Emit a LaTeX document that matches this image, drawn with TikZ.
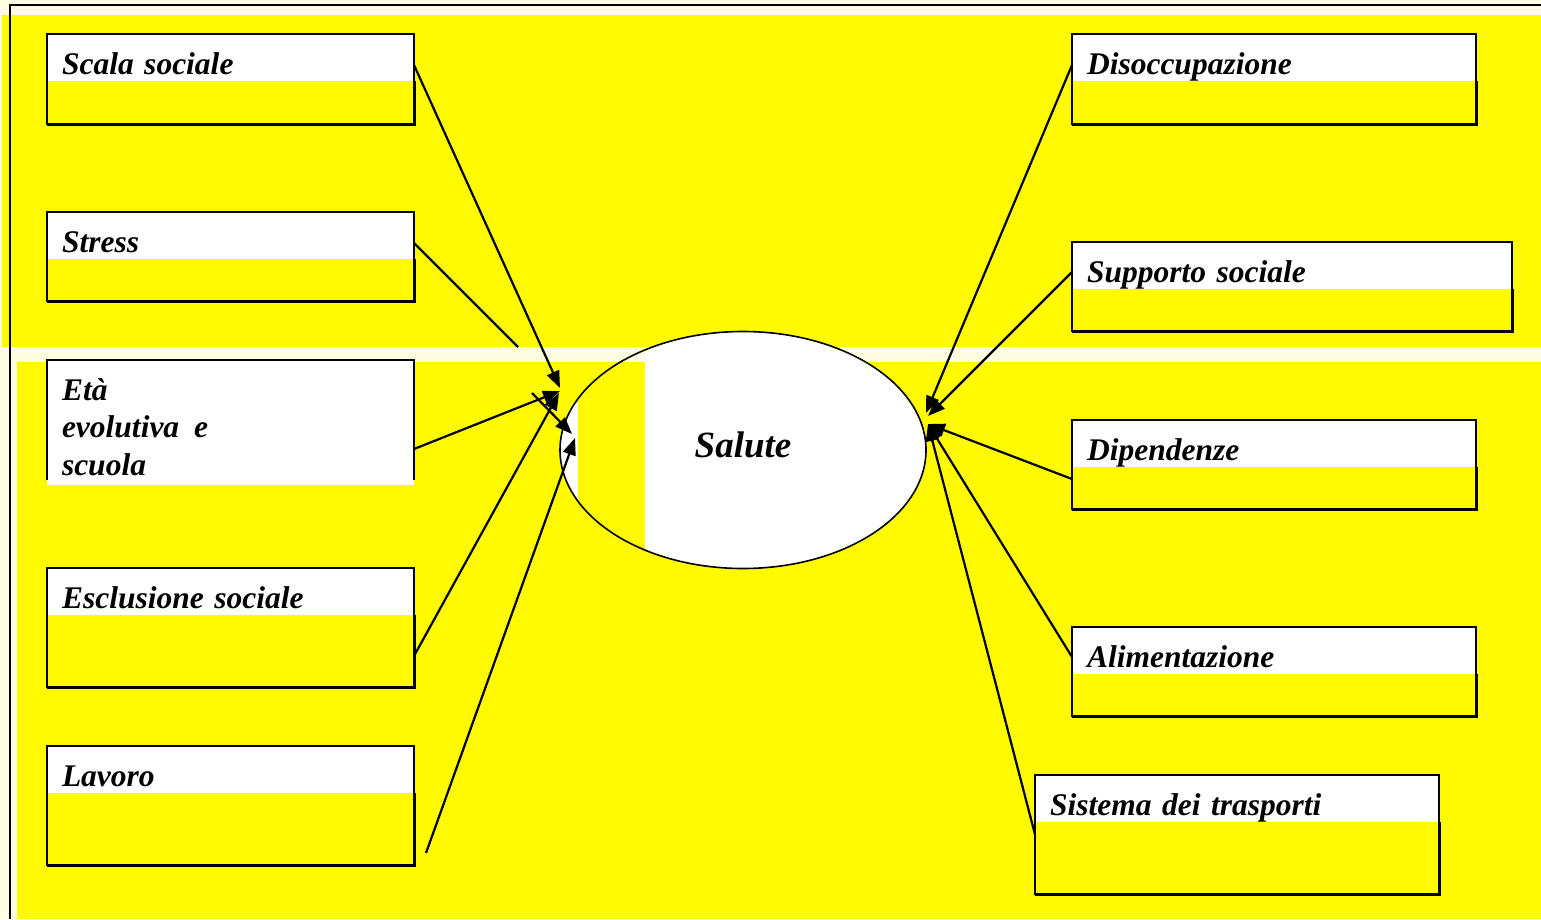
\documentclass[tikz,border=0pt]{standalone}
\usepackage{fontspec}
\setmainfont[WordSpace=0.6]{Liberation Serif}
\usepackage{tikz}
\usetikzlibrary{shapes,arrows.meta}

\definecolor{sfondo}{RGB}{255,250,0}
\definecolor{crema}{RGB}{255,253,225}

\tikzset{
  fattore/.style={anchor=north west, fill=sfondo, inner sep=0pt, outer sep=0pt},
  titolo/.style={anchor=north west, fill=white, inner xsep=15pt, inner ysep=0pt, outer sep=0pt,
    text height=40pt, text depth=7pt, align=left,
    font=\bfseries\itshape\fontsize{31.5}{37.5}\selectfont},
  bordo/.style={draw=black, line width=1.2pt},
  ombra/.style={draw=black, line width=3pt},
  nucleo/.style={ellipse, fill=white, minimum width=366, minimum height=237,
    text depth=10pt, font=\bfseries\itshape\fontsize{37}{40}\selectfont}
}

\begin{document}
\begin{tikzpicture}[x=1pt, y=-1pt, line width=2.2pt, >={Triangle[length=17pt,width=13pt]}]
    \useasboundingbox (0,0) rectangle (1541,919);
    % sfondo
    \fill[crema] (0,0) rectangle (1541,919);
    \fill[sfondo] (2,15) rectangle (1541,347);
    \fill[sfondo] (17,362) rectangle (1541,919);
    \draw (10,919) -- (10,5) -- (1541,5);

    % fattori a sinistra
    \node[fattore, minimum width=367, minimum height=90] (scala) at (47,34) {};
    \node[titolo, text width=337] (scala-t) at (scala.north west) {Scala sociale};
    \node[fattore, minimum width=367, minimum height=89] (stress) at (47,212) {};
    \node[titolo, text width=337] (stress-t) at (stress.north west) {Stress};
    \node[titolo, text width=337, text depth=85pt] (eta) at (47,360) {Età\\evolutiva\hspace{15pt}e\\scuola};
    \node[fattore, minimum width=367, minimum height=119] (esclusione) at (47,568) {};
    \node[titolo, text width=337] (esclusione-t) at (esclusione.north west) {Esclusione sociale};
    \node[fattore, minimum width=367, minimum height=119] (lavoro) at (47,746) {};
    \node[titolo, text width=337] (lavoro-t) at (lavoro.north west) {Lavoro};

    % fattori a destra
    \node[fattore, minimum width=404, minimum height=90] (disoc) at (1072,34) {};
    \node[titolo, text width=374] (disoc-t) at (disoc.north west) {Disoccupazione};
    \node[fattore, minimum width=440, minimum height=89] (supporto) at (1072,242) {};
    \node[titolo, text width=410] (supporto-t) at (supporto.north west) {Supporto sociale};
    \node[fattore, minimum width=404, minimum height=89] (dipend) at (1072,420) {};
    \node[titolo, text width=374] (dipend-t) at (dipend.north west) {Dipendenze};
    \node[fattore, minimum width=404, minimum height=89] (aliment) at (1072,627) {};
    \node[titolo, text width=374] (aliment-t) at (aliment.north west) {Alimentazione};
    \node[fattore, minimum width=404, minimum height=119] (trasporti) at (1035,775) {};
    \node[titolo, text width=374] (trasporti-t) at (trasporti.north west) {Sistema dei trasporti};

    \foreach \b in {scala,stress,esclusione,lavoro,disoc,supporto,dipend,aliment,trasporti}{
      \draw[bordo] (\b.north west) rectangle (\b.south east);
      \draw[ombra] ([yshift=-47pt]\b.north east) -- (\b.south east) -- (\b.south west);
    }
    \draw[bordo] ([yshift=5pt]eta.south west) |- (eta.north east) -- ([yshift=5pt]eta.south east);

    % salute
    \node[nucleo] (salute) at (743,450) {Salute};
    \begin{scope}
      \clip (salute.center) ellipse [x radius=183, y radius=118.5];
      \fill[crema] (578,340) rectangle (645,362);
      \fill[sfondo] (578,362) rectangle (645,600);
    \end{scope}
    \draw[line width=1.6pt] (salute.center) ellipse [x radius=183, y radius=118.5];

    % punte delle frecce
    \coordinate (pScala) at (560,388);
    \coordinate (pEta) at (560,391);
    \coordinate (pEscl) at (559,393);
    \coordinate (pStress) at (572,434);
    \coordinate (pLavoro) at (575,438);
    \coordinate (pDisoc) at (926,413);
    \coordinate (pSupp) at (928,416);
    \coordinate (pDestra) at (928,424);
    \coordinate (stressA) at (518,347);
    \coordinate (stressB) at (532,393);
    \coordinate (lavoroA) at (426,853);

    \path[->]
    ([yshift=14pt]scala.east) edge (pScala)
    ([yshift=13.5pt]stress.east) edge[-] (stressA)
    (stressB) edge (pStress)
    ([yshift=-26.5pt]eta.east) edge (pEta)
    ([yshift=-28.5pt]esclusione.east) edge (pEscl)
    (lavoroA) edge (pLavoro)
    ([yshift=14pt]disoc.west) edge (pDisoc)
    ([yshift=14.5pt]supporto.west) edge (pSupp)
    ([yshift=-14.5pt]dipend.west) edge (pDestra)
    ([yshift=14.5pt]aliment.west) edge (pDestra)
    (trasporti.west) edge (pDestra)
;
\end{tikzpicture}
\end{document}
